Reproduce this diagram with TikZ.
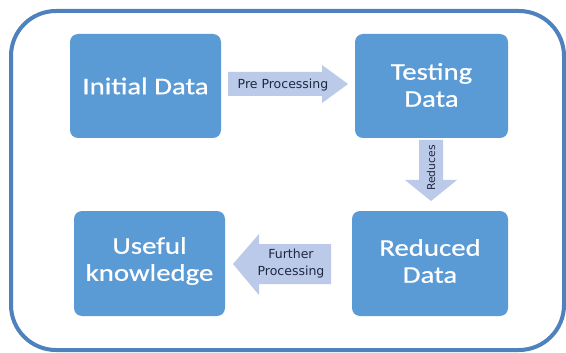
\documentclass[tikz,border=0pt]{standalone}
\usepackage{fontspec}
\setmainfont{Carlito}
\newfontfamily\boxfont[FakeStretch=1.2,FakeBold=0.6]{Carlito}
\newfontfamily\labfont{DejaVu Sans}
\definecolor{frameblue}{RGB}{79,129,189}
\definecolor{boxblue}{RGB}{91,155,213}
\definecolor{arrowfill}{RGB}{186,202,232}
\definecolor{arrowtext}{RGB}{30,40,65}
\begin{document}
\begin{tikzpicture}[x=1pt,y=-1pt,
  stepbox/.style={fill=boxblue, rounded corners=8pt, draw=none},
  boxtext/.style={text=white, font=\boxfont\fontsize{24}{27}\selectfont, align=center},
  arrowshape/.style={fill=arrowfill, draw=none},
  arrowlabel/.style={text=arrowtext, font=\labfont\fontsize{12.5}{17}\selectfont, align=center, inner sep=0pt}]
\useasboundingbox (0,0) rectangle (566,353);
\fill[white] (0,0) rectangle (566,353);
% outer frame
\draw[frameblue, line width=4pt, rounded corners=45pt] (11,11) rectangle (564,350);
% boxes
\path[stepbox] (70,34) rectangle (221,138);
\node[boxtext] (init) at (145.5,86) {Initial Data};
\path[stepbox] (355,34) rectangle (508,138);
\node[boxtext] (test) at (431.5,85) {Testing\\Data};
\path[stepbox] (352,211) rectangle (508,316);
\node[boxtext] (red) at (430,261) {Reduced\\Data};
\path[stepbox] (74,211) rectangle (225,316);
\node[boxtext] (use) at (149.5,261) {Useful\\knowledge};
% arrow: pre processing
\path[arrowshape] (228,72) -- (322,72) -- (322,65) -- (348,84) -- (322,103) -- (322,96) -- (228,96) -- cycle;
\node[arrowlabel] (pre) at (283,85) {Pre Processing};
% arrow: reduces
\path[arrowshape] (419,140) -- (443,140) -- (443,180) -- (457,180) -- (431,201) -- (405,180) -- (419,180) -- cycle;
\node[arrowlabel, rotate=90, font=\labfont\fontsize{10.8}{13}\selectfont] (redl) at (431,168) {Reduces};
% arrow: further processing
\path[arrowshape] (331,244) -- (259,244) -- (259,234) -- (233,264) -- (259,295) -- (259,284) -- (331,284) -- cycle;
\node[arrowlabel] (fur) at (291,264) {Further\\Processing};
\end{tikzpicture}
\end{document}
